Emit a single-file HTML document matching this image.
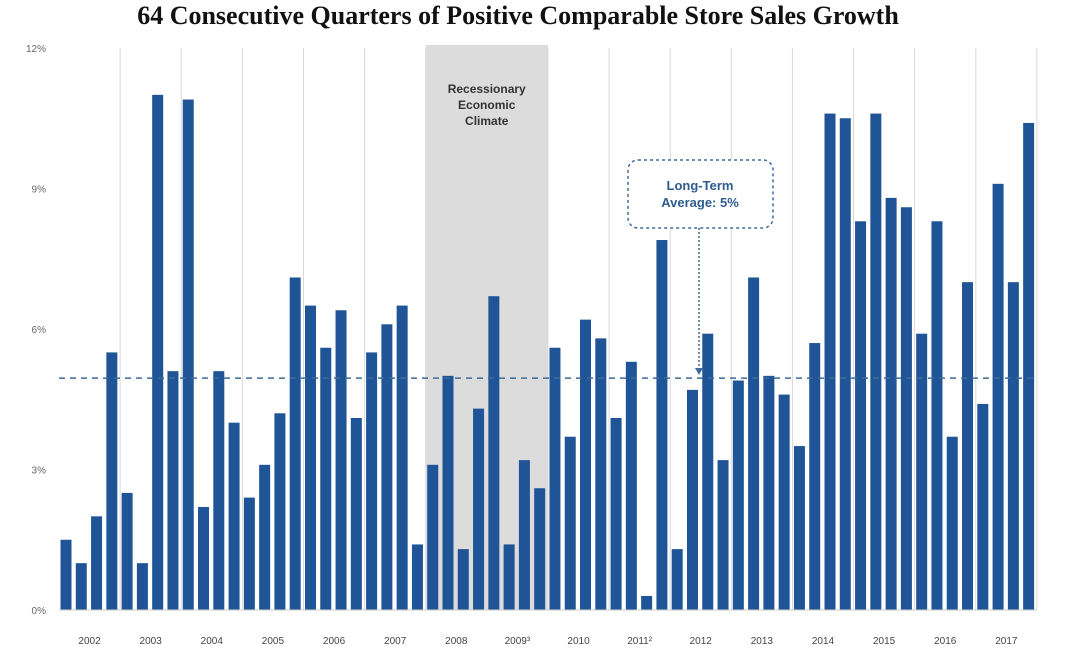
<!DOCTYPE html>
<html><head><meta charset="utf-8"><style>
body{margin:0;background:#fff;width:1066px;height:662px;overflow:hidden}
svg text{font-family:"Liberation Sans",sans-serif}
</style></head><body>
<svg width="1066" height="662">
<text x="518" y="24" text-anchor="middle" font-weight="bold" font-size="26" fill="#111" style="font-family:'Liberation Serif',serif">64 Consecutive Quarters of Positive Comparable Store Sales Growth</text>
<g id="plot"></g>
</svg>
<script>
const years=["2002","2003","2004","2005","2006","2007","2008","2009³","2010","2011²","2012","2013","2014","2015","2016","2017"];
const values=[1.5,1.0,2.0,5.5,2.5,1.0,11.0,5.1,10.9,2.2,5.1,4.0,2.4,3.1,4.2,7.1,6.5,5.6,6.4,4.1,5.5,6.1,6.5,1.4,3.1,5.0,1.3,4.3,6.7,1.4,3.2,2.6,5.6,3.7,6.2,5.8,4.1,5.3,0.3,7.9,1.3,4.7,5.9,3.2,4.9,7.1,5.0,4.6,3.5,5.7,10.6,10.5,8.3,10.6,8.8,8.6,5.9,8.3,3.7,7.0,4.4,9.1,7.0,10.4];
const yTicks=[0,3,6,9,12];
const average=[4.95];
const recession=[6,8];
const NS="http://www.w3.org/2000/svg";
const g=document.getElementById('plot');
const x0=59,pitch=15.28,y0=610,yTop=48;
const y=v=>y0-(v/12)*(y0-yTop);
const xq=i=>x0+i*pitch;
function mk(t,a,p){const e=document.createElementNS(NS,t);for(const k in a)e.setAttribute(k,a[k]);(p||g).appendChild(e);return e;}
for(let k=1;k<=years.length;k++){
 const gl=mk('line',{x1:xq(k*4),x2:xq(k*4),y1:yTop,y2:y0,stroke:'#d8d8d8','stroke-width':1});
 
 
}
let band=mk('rect',{x:xq(recession[0]*4),y:45,width:xq(recession[1]*4)-xq(recession[0]*4),height:y0-45,fill:'#dcdcdc'});


let rt=mk('text',{x:xq(recession[0]*4)+61,y:93,'text-anchor':'middle','font-size':12,'font-weight':'bold',fill:'#333'});


["Recessionary","Economic","Climate"].forEach((s,i)=>{const ts=mk('tspan',{x:xq(recession[0]*4)+61,dy:i?16:0},rt);ts.textContent=s;});
values.forEach((v,i)=>{
 const b=mk('rect',{x:xq(i)+1.5,y:y(v),width:11,height:y0-y(v),fill:'#1f5496'});
 
 
});
let ax=mk('line',{x1:x0,x2:xq(64),y1:y0,y2:y0,stroke:'#ccc'});


yTicks.forEach(t=>{const tx=mk('text',{x:46,y:y(t)+4,'text-anchor':'end','font-size':10,fill:'#666'});tx.textContent=t+'%';
 
 });
years.forEach((yr,k)=>{const tx=mk('text',{x:xq(k*4)+2*pitch,y:644,'text-anchor':'middle','font-size':10,fill:'#444'});tx.textContent=yr;
 
 });
let al=mk('line',{x1:x0,x2:xq(64),y1:y(average[0]),y2:y(average[0]),stroke:'#3d6b9a','stroke-width':1.5,'stroke-dasharray':'6,5'});


let cb=mk('rect',{x:628,y:160,width:145,height:68,rx:10,fill:'#fff',stroke:'#3d6b9a','stroke-width':1.5,'stroke-dasharray':'3,3'});


let ct=mk('text',{x:700,y:190,'text-anchor':'middle','font-size':13,'font-weight':'bold',fill:'#2d5c8e'});


["Long-Term","Average: 5%"].forEach((s,i)=>{const ts=mk('tspan',{x:700,dy:i?17:0},ct);ts.textContent=s;});
let ar=mk('line',{x1:699,x2:699,y1:228,y2:370,stroke:'#3d6b9a','stroke-width':1.5,'stroke-dasharray':'2,2'});


let ah=mk('path',{d:'M695,368 L703,368 L699,375 Z',fill:'#3d6b9a'});


</script>
</body></html>
